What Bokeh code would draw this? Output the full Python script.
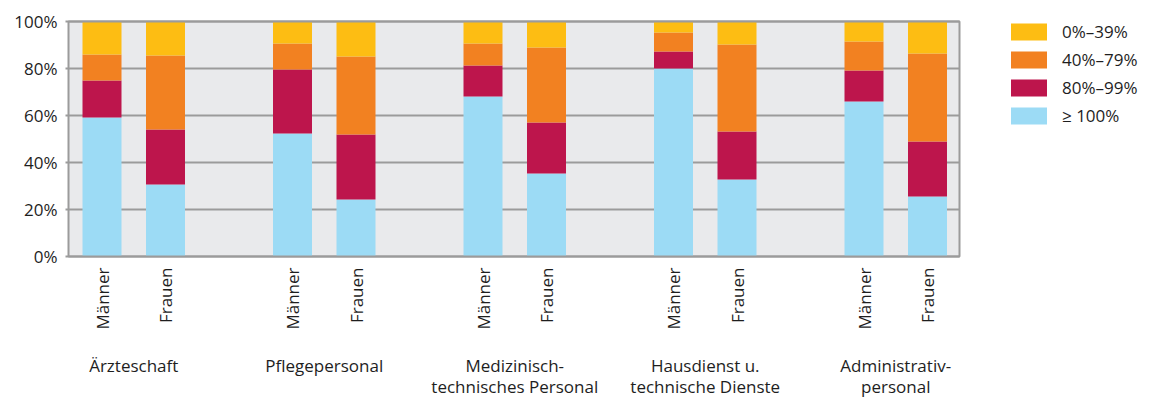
import math
from bokeh.plotting import figure
from bokeh.models import (ColumnDataSource, Range1d, Legend, LegendItem)
from bokeh.core.properties import value
from bokeh.embed import file_html
from bokeh.resources import INLINE

# ---- data (percent shares) ----
groups = ["Ärzteschaft", "Pflegepersonal", "Medizinisch-\ntechnisches Personal",
          "Hausdienst u.\ntechnische Dienste", "Administrativ-\npersonal"]
sexes = ["Männer", "Frauen"]
series = ["≥ 100%", "80%–99%", "40%–79%", "0%–39%"]
colors = ["#9cdbf5", "#bd154c", "#f28121", "#fdbd13"]
y_ticks = [0, 20, 40, 60, 80, 100]
y_tick_labels = ["0%", "20%", "40%", "60%", "80%", "100%"]

# order: Ärzte M, Ärzte F, Pflege M, Pflege F, Med M, Med F, Haus M, Haus F, Admin M, Admin F
s_ge100 = [59.1, 30.6, 52.3, 24.3, 68.1, 35.3, 80.0, 32.8, 66.0, 25.5]
s_80_99 = [15.8, 23.4, 27.3, 27.6, 13.2, 21.7, 7.2, 20.4, 13.1, 23.4]
s_40_79 = [11.1, 31.5, 11.0, 33.2, 9.3, 31.9, 8.1, 37.0, 12.4, 37.5]
s_0_39 = [14.0, 14.5, 9.4, 14.9, 9.4, 11.1, 4.7, 9.8, 8.5, 13.6]

FONT = value("Open Sans")
FS = value("17px")
TXT = "#1e1e1e"
GRAY = "#9b9b9b"
BG = "#e9eaec"

# layout (canvas pixels -> data units)
W, H = 1153, 399
UX = 63.5          # px per x unit
X0PX = 101.5       # pixel of x = 0
UY = 2.35          # px per percent
Y0PX = 256         # pixel of y = 0
XL, XR = (68 - X0PX) / UX, (959 - X0PX) / UX

xs = []
for g in range(len(groups)):
    for s in range(len(sexes)):
        xs.append(g * 3 + s)
labels_sex = [sexes[i % 2] for i in range(len(xs))]
gcent = [g * 3 + 0.5 for g in range(len(groups))]

src = ColumnDataSource(dict(x=xs, a=s_ge100, b=s_80_99, c=s_40_79, d=s_0_39))

p = figure(width=W, height=H, output_backend="svg", toolbar_location=None,
           x_range=Range1d(-X0PX / UX, (W - X0PX) / UX),
           y_range=Range1d(-(H - Y0PX) / UY, Y0PX / UY),
           x_axis_type=None, y_axis_type=None, min_border=0)
p.outline_line_color = None
p.background_fill_color = "white"
p.border_fill_color = "white"
p.grid.visible = False

# plot area background
p.quad(left=[XL], right=[XR], bottom=[0], top=[100], fill_color=BG, line_color=None)

# gridlines + tick marks
p.segment(x0=[XL] * len(y_ticks), x1=[XR] * len(y_ticks), y0=y_ticks, y1=y_ticks,
          line_color=GRAY, line_width=2)
p.segment(x0=[XL - 3 / UX] * len(y_ticks), x1=[XL] * len(y_ticks), y0=y_ticks,
          y1=y_ticks, line_color=GRAY, line_width=2)

# bars
rs = p.vbar_stack(["a", "b", "c", "d"], x="x", width=0.614, source=src,
                  color=colors, line_width=0)

# frame border
p.quad(left=[XL], right=[XR], bottom=[0], top=[100], fill_color=None,
       line_color=GRAY, line_width=2)

# y tick labels
p.text(x=[XL] * len(y_ticks), y=y_ticks, text=y_tick_labels, x_offset=-11,
       text_align="right", text_baseline="middle", text_font=FONT,
       text_font_size=FS, text_color=TXT)

# sex labels (rotated)
p.text(x=xs, y=[0] * len(xs), text=labels_sex, y_offset=11, angle=math.pi / 2,
       text_align="right", text_baseline="middle", text_font=FONT,
       text_font_size=FS, text_color=TXT)

# group labels
p.text(x=gcent, y=[0] * len(gcent), text=groups, y_offset=97,
       text_align="center", text_baseline="top", text_font=FONT,
       text_font_size=FS, text_color=TXT, text_line_height=0.95)

# legend (top item first)
items = [LegendItem(label=series[i], renderers=[rs[i]]) for i in [3, 2, 1, 0]]
leg = Legend(items=items, location=(1006, 272), orientation="vertical",
             border_line_color=None, background_fill_alpha=0, padding=0,
             margin=0, spacing=5, glyph_width=45, glyph_height=21,
             label_standoff=11, label_text_font="Open Sans",
             label_text_font_size="17px", label_text_color=TXT,
             label_height=21)
p.add_layout(leg, "center")

open("out.html", "w").write(file_html(p, INLINE))
